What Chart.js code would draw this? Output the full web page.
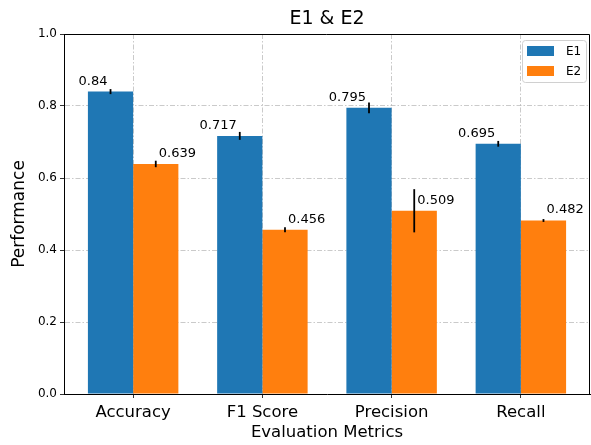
<!DOCTYPE html>
<html lang="en">
<head>
    <meta charset="UTF-8">
    <title>E1 & E2</title>
    <script src="https://cdn.jsdelivr.net/npm/chart.js"></script>
    <style>
        html, body { margin: 0; padding: 0; background: #fff; }
        #wrap { width: 591px; height: 445px; }
    </style>
</head>
<body>
    <div id="wrap"><canvas id="perfChart"></canvas></div>

    <script>
        // data
        const metrics = ['Accuracy', 'F1 Score', 'Precision', 'Recall'];
        const e1Values = [0.84, 0.717, 0.795, 0.695];
        const e2Values = [0.639, 0.456, 0.509, 0.482];
        const e1Errors = [0.007, 0.011, 0.015, 0.008];
        const e2Errors = [0.009, 0.007, 0.06, 0.004];
        const yTicks = [0.0, 0.2, 0.4, 0.6, 0.8, 1.0];

        const FONT = "'DejaVu Sans', sans-serif";

        // error bars, value labels, frame and legend
        const extrasPlugin = {
            id: 'extras',
            afterDatasetsDraw(chart) {
                const ctx = chart.ctx;
                const y = chart.scales.y;
                const area = chart.chartArea;
                const errs = [e1Errors, e2Errors];

                chart.data.datasets.forEach((ds, d) => {
                    const meta = chart.getDatasetMeta(d);
                    meta.data.forEach((bar, i) => {
                        const v = ds.data[i].y;
                        const e = errs[d][i];
                        ctx.save();
                        ctx.strokeStyle = '#000';
                        ctx.lineWidth = 1.8;
                        ctx.beginPath();
                        ctx.moveTo(bar.x, y.getPixelForValue(v - e));
                        ctx.lineTo(bar.x, y.getPixelForValue(v + e));
                        ctx.stroke();

                        ctx.fillStyle = '#000';
                        ctx.font = '13px ' + FONT;
                        ctx.textBaseline = 'alphabetic';
                        ctx.textAlign = d === 0 ? 'right' : 'left';
                        const tx = d === 0 ? bar.x - 3 : bar.x + 3;
                        ctx.fillText(String(v), tx, bar.y - 7);
                        ctx.restore();
                    });
                });

                // top and right spines
                ctx.save();
                ctx.strokeStyle = '#000';
                ctx.lineWidth = 1;
                ctx.beginPath();
                ctx.moveTo(area.left, area.top + 0.5);
                ctx.lineTo(area.right - 0.5, area.top + 0.5);
                ctx.lineTo(area.right - 0.5, area.bottom);
                ctx.stroke();
                ctx.restore();
            },
            afterDraw(chart) {
                // legend box, top right
                const ctx = chart.ctx;
                const bx = 522, by = 40, bw = 64, bh = 42;
                ctx.save();
                ctx.fillStyle = 'rgba(255,255,255,0.85)';
                ctx.strokeStyle = '#d0d0d0';
                ctx.lineWidth = 1;
                ctx.beginPath();
                ctx.roundRect(bx + 0.5, by + 0.5, bw, bh, 3);
                ctx.fill();
                ctx.stroke();
                chart.data.datasets.forEach((ds, d) => {
                    const ry = by + 6 + d * 20;
                    ctx.fillStyle = ds.backgroundColor;
                    ctx.fillRect(bx + 5, ry, 27, 10);
                    ctx.fillStyle = '#000';
                    ctx.font = '12px ' + FONT;
                    ctx.textAlign = 'left';
                    ctx.textBaseline = 'middle';
                    ctx.fillText(ds.label, bx + 44, ry + 5.5);
                });
                ctx.restore();
            }
        };

        const gridStyle = {
            offset: false,
            color: 'rgba(150,150,150,0.5)',
            lineWidth: 1,
            tickColor: '#333',
            tickWidth: 1,
            tickLength: 4,
            tickBorderDash: []
        };
        const borderStyle = { display: true, color: '#000', width: 1, dash: [5, 2, 1.5, 2] };

        const ctx = document.getElementById('perfChart').getContext('2d');
        new Chart(ctx, {
            type: 'bar',
            data: {
                datasets: [{
                    label: 'E1',
                    data: e1Values.map((v, i) => ({ x: i, y: v })),
                    backgroundColor: '#1f77b4',
                    borderWidth: 0,
                    categoryPercentage: 0.7,
                    barPercentage: 1.0
                }, {
                    label: 'E2',
                    data: e2Values.map((v, i) => ({ x: i, y: v })),
                    backgroundColor: '#ff7f0e',
                    borderWidth: 0,
                    categoryPercentage: 0.7,
                    barPercentage: 1.0
                }]
            },
            options: {
                responsive: true,
                maintainAspectRatio: false,
                animation: false,
                layout: { padding: { top: 0, right: 1, left: 0, bottom: 0 } },
                plugins: {
                    legend: { display: false },
                    tooltip: { enabled: false },
                    title: {
                        display: true,
                        fullSize: false,
                        text: 'E1 & E2',
                        color: '#000',
                        font: { family: FONT, size: 19, weight: 'normal' },
                        padding: { top: 8, bottom: 3.2 }
                    }
                },
                scales: {
                    x: {
                        type: 'linear',
                        z: 1,
                        min: -0.535,
                        max: 3.535,
                        offset: false,
                        afterBuildTicks: (scale) => {
                            scale.ticks = metrics.map((m, i) => ({ value: i }));
                        },
                        afterFit: (scale) => { scale.height = 51; },
                        ticks: {
                            color: '#000',
                            font: { family: FONT, size: 16.5 },
                            padding: 5,
                            autoSkip: false,
                            maxRotation: 0,
                            callback: (value) => metrics[value]
                        },
                        grid: gridStyle,
                        border: borderStyle,
                        title: {
                            display: true,
                            text: 'Evaluation Metrics',
                            color: '#000',
                            font: { family: FONT, size: 16.5 },
                            padding: { top: 0, bottom: 2 }
                        }
                    },
                    y: {
                        z: 1,
                        min: 0,
                        max: 1,
                        afterBuildTicks: (scale) => {
                            scale.ticks = yTicks.map(v => ({ value: v }));
                        },
                        afterFit: (scale) => { scale.width = 64; },
                        ticks: {
                            color: '#000',
                            font: { family: FONT, size: 12 },
                            padding: 3,
                            callback: (value) => value.toFixed(1)
                        },
                        grid: gridStyle,
                        border: borderStyle,
                        title: {
                            display: true,
                            text: 'Performance',
                            color: '#000',
                            font: { family: FONT, size: 17 },
                            padding: { top: 9, bottom: 4 }
                        }
                    }
                }
            },
            plugins: [extrasPlugin]
        });
    </script>
</body>
</html>
